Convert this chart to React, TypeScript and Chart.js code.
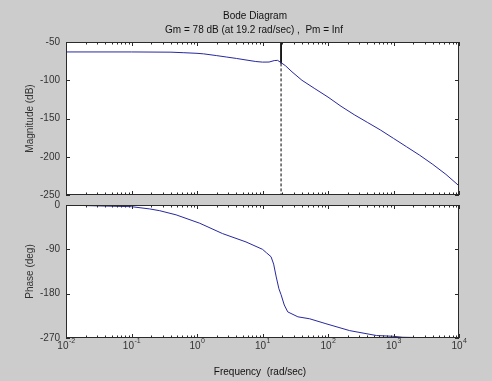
import React, { useEffect, useRef } from 'react';
import { Chart, registerables } from 'chart.js';

Chart.register(...registerables);

// ---- data ----
const magFreq = [0.01, 0.1, 0.4, 0.63, 1, 1.26, 2, 2.8, 4, 5.6, 7.9, 10, 12.6, 15.1, 17, 19.2, 22.4, 28.2, 40, 63, 100, 158, 251, 398, 631, 1000, 1585, 2512, 3981, 6310, 10000];
const magDb = [-63, -63, -63.3, -64, -64.8, -65.5, -67.8, -69.6, -71.5, -73.5, -75.5, -76.3, -76.2, -74.3, -74, -77, -81, -89, -100, -111, -122, -134, -145, -155, -165, -176, -187, -198, -210, -223, -238];

const phaseFreq = [0.01, 0.023, 0.1, 0.19, 0.27, 0.48, 1.1, 2.45, 5.6, 10, 11.5, 13.5, 14.8, 16.2, 17.8, 19.2, 21.5, 24.3, 34.7, 52.5, 93, 214, 550, 980, 1380, 4000, 10000];
const phaseDeg = [0, -1.4, -3.4, -8, -11.6, -20, -37, -58, -75, -90, -97, -105, -120, -146, -170, -182, -203, -217, -227, -231, -241, -255, -265, -266.5, -268.5, -269.7, -270];

const magTicks = [-50, -100, -150, -200, -250];
const phaseTicks = [0, -90, -180, -270];
const decadeExponents = [-2, -1, 0, 1, 2, 3, 4];

const gmFreq = 19.2;
const gmDb = -78;

const titleLines = ['Bode Diagram', 'Gm = 78 dB (at 19.2 rad/sec) ,  Pm = Inf'];
const magLabel = 'Magnitude (dB)';
const phaseLabel = 'Phase (deg)';
const freqLabel = 'Frequency  (rad/sec)';

const BG = '#cccccc';
const CURVE = '#2828a0';
const AXIS = '#2a2a2a';
const TEXT = '#333333';
const FONT = '"Liberation Sans", Arial, sans-serif';

type PluginOpts = {
  yTicks: number[];
  yTitle: string;
  titles?: string[];
  xLabels?: boolean;
  xTitle?: string;
  xTitleY?: number;
};

function matlabAxes(o: PluginOpts) {
  return {
    id: 'matlabAxes',
    beforeDraw(chart: any) {
      const { ctx, chartArea: a } = chart;
      ctx.save();
      ctx.fillStyle = '#ffffff';
      ctx.fillRect(a.left, a.top, a.right - a.left, a.bottom - a.top);
      ctx.restore();
    },
    afterDraw(chart: any) {
      const { ctx, chartArea: a, scales } = chart;
      const xs = scales.x;
      const ys = scales.y;
      ctx.save();
      // box
      ctx.strokeStyle = AXIS;
      ctx.lineWidth = 1;
      ctx.strokeRect(a.left + 0.5, a.top + 0.5, a.right - a.left - 1, a.bottom - a.top - 1);
      // x ticks (inward, top and bottom)
      ctx.beginPath();
      for (let i = 0; i < decadeExponents.length; i++) {
        const e = decadeExponents[i];
        const px = Math.round(xs.getPixelForValue(Math.pow(10, e))) + 0.5;
        ctx.moveTo(px, a.bottom);
        ctx.lineTo(px, a.bottom - 4);
        ctx.moveTo(px, a.top);
        ctx.lineTo(px, a.top + 4);
        if (i < decadeExponents.length - 1) {
          for (let m = 2; m <= 9; m++) {
            const mx = Math.round(xs.getPixelForValue(m * Math.pow(10, e))) + 0.5;
            ctx.moveTo(mx, a.bottom);
            ctx.lineTo(mx, a.bottom - 2.5);
            ctx.moveTo(mx, a.top);
            ctx.lineTo(mx, a.top + 2.5);
          }
        }
      }
      // y ticks (inward, left and right)
      for (const t of o.yTicks) {
        const py = Math.round(ys.getPixelForValue(t)) + 0.5;
        ctx.moveTo(a.left, py);
        ctx.lineTo(a.left + 4, py);
        ctx.moveTo(a.right, py);
        ctx.lineTo(a.right - 4, py);
      }
      ctx.stroke();

      // y tick labels
      ctx.fillStyle = TEXT;
      ctx.font = `10px ${FONT}`;
      ctx.textAlign = 'right';
      ctx.textBaseline = 'middle';
      for (const t of o.yTicks) {
        ctx.fillText(String(t), a.left - 6, ys.getPixelForValue(t));
      }
      // y title
      ctx.save();
      ctx.translate(30, (a.top + a.bottom) / 2);
      ctx.rotate(-Math.PI / 2);
      ctx.textAlign = 'center';
      ctx.textBaseline = 'middle';
      ctx.font = `10px ${FONT}`;
      ctx.fillText(o.yTitle, 0, 0);
      ctx.restore();

      // titles
      if (o.titles) {
        ctx.textAlign = 'center';
        ctx.textBaseline = 'middle';
        ctx.fillStyle = '#111111';
        ctx.font = `10px ${FONT}`;
        ctx.fillText(o.titles[0], 255, 16);
        ctx.fillText(o.titles[1], 254, 30);
      }

      // x labels with superscript exponents
      if (o.xLabels) {
        for (const e of decadeExponents) {
          const px = xs.getPixelForValue(Math.pow(10, e));
          ctx.font = `10px ${FONT}`;
          const wb = ctx.measureText('10').width;
          ctx.font = `7px ${FONT}`;
          const exp = String(e);
          const we = ctx.measureText(exp).width;
          const start = px - (wb + we) / 2;
          ctx.textAlign = 'left';
          ctx.textBaseline = 'middle';
          ctx.fillStyle = TEXT;
          ctx.font = `10px ${FONT}`;
          ctx.fillText('10', start, a.bottom + 8);
          ctx.font = `7px ${FONT}`;
          ctx.fillText(exp, start + wb + 0.5, a.bottom + 3);
        }
      }
      if (o.xTitle) {
        ctx.textAlign = 'center';
        ctx.textBaseline = 'middle';
        ctx.fillStyle = '#111111';
        ctx.font = `10px ${FONT}`;
        ctx.fillText(o.xTitle, 260, o.xTitleY || 0);
      }
      ctx.restore();
    },
  };
}

function baseOptions(yMin: number, yMax: number, padding: any) {
  return {
    responsive: false,
    animation: false as const,
    events: [] as any[],
    layout: { padding },
    plugins: { legend: { display: false }, tooltip: { enabled: false }, title: { display: false } },
    scales: {
      x: { type: 'logarithmic' as const, min: 0.01, max: 10000, display: false },
      y: { type: 'linear' as const, min: yMin, max: yMax, display: false },
    },
    elements: { point: { radius: 0 }, line: { tension: 0 } },
  };
}

export default function App() {
  const topRef = useRef<HTMLCanvasElement>(null);
  const botRef = useRef<HTMLCanvasElement>(null);

  useEffect(() => {
    document.body.style.margin = '0';
    const top = new Chart(topRef.current!, {
      type: 'line',
      data: {
        datasets: [
          {
            data: magFreq.map((f, i) => ({ x: f, y: magDb[i] })),
            borderColor: CURVE,
            borderWidth: 1,
            pointRadius: 0,
          },
          {
            data: [{ x: gmFreq, y: 0 }, { x: gmFreq, y: gmDb }],
            borderColor: '#000000',
            borderWidth: 1,
            pointRadius: 0,
          },
          {
            data: [{ x: gmFreq, y: gmDb }, { x: gmFreq, y: -300 }],
            borderColor: '#000000',
            borderWidth: 1,
            borderDash: [3, 2],
            pointRadius: 0,
          },
        ],
      },
      options: baseOptions(-250, -50, { left: 66, top: 42, right: 33, bottom: 5 }) as any,
      plugins: [matlabAxes({ yTicks: magTicks, yTitle: magLabel, titles: titleLines })],
    });
    const bot = new Chart(botRef.current!, {
      type: 'line',
      data: {
        datasets: [
          {
            data: phaseFreq.map((f, i) => ({ x: f, y: phaseDeg[i] })),
            borderColor: CURVE,
            borderWidth: 1,
            pointRadius: 0,
          },
        ],
      },
      options: baseOptions(-270, 0, { left: 66, top: 5, right: 33, bottom: 43 }) as any,
      plugins: [matlabAxes({ yTicks: phaseTicks, yTitle: phaseLabel, xLabels: true, xTitle: freqLabel, xTitleY: 172 })],
    });
    return () => {
      top.destroy();
      bot.destroy();
    };
  }, []);

  return (
    <div style={{ position: 'absolute', left: 0, top: 0, width: 492, height: 381, background: BG, overflow: 'hidden' }}>
      <canvas ref={topRef} width={492} height={200} style={{ position: 'absolute', left: 0, top: 0, display: 'block' }} />
      <canvas ref={botRef} width={492} height={181} style={{ position: 'absolute', left: 0, top: 200, display: 'block' }} />
    </div>
  );
}
